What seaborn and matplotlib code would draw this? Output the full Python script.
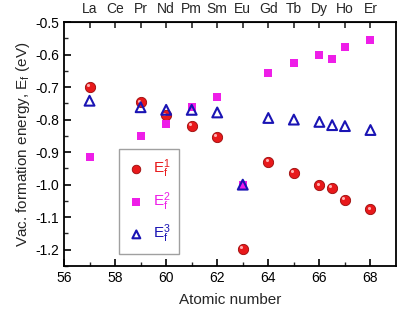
import matplotlib
matplotlib.use("Agg")
import matplotlib.pyplot as plt
import matplotlib.transforms as mtransforms
import seaborn as sns
import pandas as pd

sns.set_style("ticks")
plt.rcParams['font.family'] = ['Liberation Sans', 'DejaVu Sans']
plt.rcParams['mathtext.fontset'] = 'custom'
plt.rcParams['mathtext.rm'] = 'Liberation Sans'
plt.rcParams['mathtext.it'] = 'Liberation Sans'

atomic_number = [57, 59, 60, 61, 62, 63, 64, 65, 66, 66.5, 67, 68]
ef1 = [-0.700, -0.747, -0.787, -0.820, -0.854, -1.198, -0.930, -0.963, -1.002, -1.010, -1.046, -1.076]
ef2 = [-0.914, -0.850, -0.813, -0.762, -0.732, -1.000, -0.656, -0.625, -0.600, -0.615, -0.577, -0.555]
ef3 = [-0.742, -0.762, -0.770, -0.770, -0.778, -1.000, -0.795, -0.800, -0.807, -0.817, -0.820, -0.832]
top_ticks = [57, 58, 59, 60, 61, 62, 63, 64, 65, 66, 67, 68]
top_labels = ["La", "Ce", "Pr", "Nd", "Pm", "Sm", "Eu", "Gd", "Tb", "Dy", "Ho", "Er"]

df = pd.DataFrame({"Z": atomic_number, "E1": ef1, "E2": ef2, "E3": ef3})

fig = plt.figure(figsize=(4.0, 3.1), dpi=100)
ax = fig.add_axes([0.16, 0.142, 0.83, 0.787])

red = "#e8191b"
mag = "#ee1ee8"
blue = "#1a14b4"

sns.scatterplot(data=df, x="Z", y="E1", ax=ax, marker="o", s=55, color=red,
                edgecolor="#9a0a0a", linewidth=0.6, label=r"E$_\mathregular{f}^\mathregular{1}$", zorder=3)
# highlight on spheres
off = mtransforms.offset_copy(ax.transData, fig=fig, x=-1.3, y=1.3, units='points')
sns.scatterplot(data=df, x="Z", y="E1", ax=ax, marker="o", s=5, color="#ffb0b0",
                linewidth=0, transform=off, zorder=4, legend=False)
sns.scatterplot(data=df, x="Z", y="E2", ax=ax, marker="s", s=36, color=mag,
                linewidth=0, label=r"E$_\mathregular{f}^\mathregular{2}$", zorder=3)
sns.scatterplot(data=df, x="Z", y="E3", ax=ax, marker="^", s=50, facecolor="none",
                edgecolor=blue, linewidth=1.5, label=r"E$_\mathregular{f}^\mathregular{3}$", zorder=5)

ax.set_xlim(56, 69)
ax.set_ylim(-1.25, -0.5)
ax.set_xticks([56, 58, 60, 62, 64, 66, 68])
ax.set_xticks([57, 59, 61, 63, 65, 67], minor=True)
ax.set_yticks([-1.2, -1.1, -1.0, -0.9, -0.8, -0.7, -0.6, -0.5])
ax.set_yticklabels(["-1.2", "-1.1", "-1.0", "-0.9", "-0.8", "-0.7", "-0.6", "-0.5"])
ax.set_yticks([-1.25, -1.15, -1.05, -0.95, -0.85, -0.75, -0.65, -0.55], minor=True)
ax.tick_params(which="major", direction="in", length=5, width=1.2, labelsize=10, colors="black")
ax.tick_params(which="minor", direction="in", length=3, width=1.0)
ax.tick_params(axis="y", which="both", right=False)
for sp in ax.spines.values():
    sp.set_visible(True)
    sp.set_linewidth(1.3)
    sp.set_color("black")

ax.set_xlabel("Atomic number", fontsize=11, labelpad=6)
ax.set_ylabel(r"Vac. formation energy, E$_\mathregular{f}$ (eV)", fontsize=11, labelpad=2)

top = ax.secondary_xaxis("top")
top.set_xticks(top_ticks)
top.set_xticklabels(top_labels)
top.tick_params(direction="in", length=4, width=1.2, labelsize=10, pad=4)

leg = ax.legend(loc="lower left", bbox_to_anchor=(0.165, 0.05), frameon=True, fancybox=False,
                edgecolor="#888888", fontsize=11, handletextpad=0.5, borderpad=0.55,
                labelspacing=0.65, handlelength=1.2, borderaxespad=0)
leg.get_frame().set_linewidth(1.0)
for h, sz in zip(leg.legend_handles, [38, 26, 32]):
    try:
        h.set_sizes([sz])
    except AttributeError:
        h.set_markersize(sz ** 0.5)
for txt, c in zip(leg.get_texts(), [red, mag, blue]):
    txt.set_color(c)

fig.savefig("out.png", dpi=100)
